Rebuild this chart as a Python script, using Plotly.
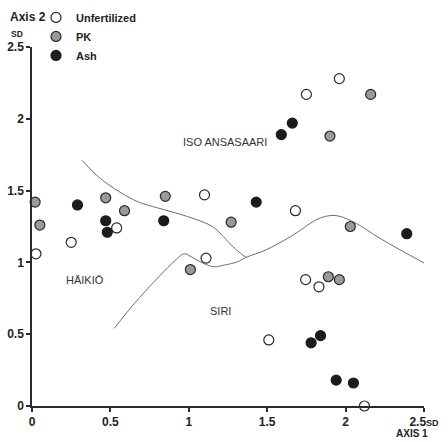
import plotly.graph_objects as go

# Data
unfert_x = [0.025, 0.25, 0.54, 1.10, 1.11, 1.96, 1.75, 1.68, 1.745, 1.83, 1.51, 2.12]
unfert_y = [1.06, 1.14, 1.24, 1.47, 1.03, 2.28, 2.17, 1.36, 0.88, 0.83, 0.46, 0.0]

pk_x = [0.02, 0.05, 0.47, 0.59, 0.85, 1.01, 1.27, 1.90, 2.16, 2.03, 1.89, 1.96]
pk_y = [1.42, 1.26, 1.45, 1.36, 1.46, 0.95, 1.28, 1.88, 2.17, 1.25, 0.90, 0.88]

ash_x = [0.29, 0.47, 0.48, 0.84, 1.43, 1.59, 1.66, 2.39, 1.84, 1.78, 1.94, 2.05]
ash_y = [1.40, 1.29, 1.21, 1.29, 1.42, 1.89, 1.97, 1.20, 0.49, 0.44, 0.18, 0.16]

upper_x = [0.32, 0.43, 0.56, 0.68, 0.80, 0.99, 1.15, 1.22, 1.29, 1.365]
upper_y = [1.71, 1.59, 1.49, 1.42, 1.38, 1.32, 1.25, 1.18, 1.10, 1.035]

lower_x = [0.524, 0.65, 0.80, 0.92, 0.97, 1.03, 1.10, 1.16, 1.22, 1.31, 1.365, 1.49,
           1.65, 1.84, 1.945, 2.07, 2.20, 2.35, 2.51]
lower_y = [0.54, 0.71, 0.89, 1.02, 1.06, 1.03, 0.99, 0.97, 0.98, 1.004, 1.035, 1.086,
           1.18, 1.31, 1.325, 1.27, 1.18, 1.086, 0.99]

region_names = ["ISO ANSASAARI", "HÄIKIÖ", "SIRI"]
region_x = [1.23, 0.335, 1.20]
region_y = [1.84, 0.877, 0.662]

tick_vals = [0, 0.5, 1, 1.5, 2, 2.5]
tick_text = ["0", "0.5", "1", "1.5", "2", "2.5"]

FONT = "Liberation Sans, Arial, sans-serif"
DARK = "#2a2a2a"
TXT = "#222"

W, H = 448, 442
L, R, T, B = 32, 23.5, 47, 36.3
pw, ph = W - L - R, H - T - B


def px(x):
    """window pixel x -> paper coordinate"""
    return (x - L) / pw


def py(y):
    """window pixel y -> paper coordinate"""
    return (H - B - y) / ph


fig = go.Figure()

for cx, cy in ((upper_x, upper_y), (lower_x, lower_y)):
    fig.add_trace(go.Scatter(x=cx, y=cy, mode="lines",
                             line=dict(color="#6e6e6e", width=1, shape="spline"),
                             showlegend=False, hoverinfo="skip"))

fig.add_trace(go.Scatter(x=unfert_x, y=unfert_y, mode="markers", name="Unfertilized",
                         marker=dict(size=10, color="white", line=dict(color=DARK, width=1.2))))
fig.add_trace(go.Scatter(x=pk_x, y=pk_y, mode="markers", name="PK",
                         marker=dict(size=10, color="#9a9a9a", line=dict(color=DARK, width=1.2))))
fig.add_trace(go.Scatter(x=ash_x, y=ash_y, mode="markers", name="Ash",
                         marker=dict(size=10, color="#1c1c1c", line=dict(color="#1c1c1c", width=1.2))))

for t in fig.data:
    t.cliponaxis = False

for name, x, y in zip(region_names, region_x, region_y):
    fig.add_annotation(x=x, y=y, text=name, showarrow=False, xref="x", yref="y",
                       font=dict(family=FONT, size=11, color="#333"))


def label(x, y, text, size):
    fig.add_annotation(x=px(x), y=py(y), text=text, xanchor="left", yanchor="middle",
                       showarrow=False, xref="paper", yref="paper",
                       font=dict(family=FONT, size=size, color=TXT, weight="bold"))


label(8, 17, "Axis 2", 12)
label(9, 34, "SD", 8.5)
label(394, 433, "AXIS 1", 10)

x_ticktext = tick_text[:-1] + [tick_text[-1] + "<span style='font-size:9px'>SD</span>"]

axis_common = dict(range=[0, 2.5], showgrid=False, zeroline=False, showline=True, linecolor=DARK,
                   linewidth=1.5, ticks="outside", ticklen=4, tickwidth=1.5, tickcolor=DARK,
                   tickvals=tick_vals,
                   tickfont=dict(family=FONT, size=12, color=TXT, weight="bold"))

fig.update_xaxes(**axis_common, ticktext=x_ticktext)
fig.update_yaxes(**axis_common, ticktext=tick_text)

fig.update_layout(
    width=W, height=H,
    margin=dict(l=L, r=R, t=T, b=B, autoexpand=False),
    plot_bgcolor="white", paper_bgcolor="white",
    font=dict(family=FONT, color=TXT),
    legend=dict(x=px(36), y=py(3), xref="paper", yref="paper", xanchor="left", yanchor="top",
                font=dict(family=FONT, size=11, color=TXT, weight="bold"),
                bgcolor="rgba(0,0,0,0)", tracegroupgap=0, itemwidth=30),
)

fig.write_html("out.html", config={"displayModeBar": False},
               post_script="document.body.style.margin='0';")
